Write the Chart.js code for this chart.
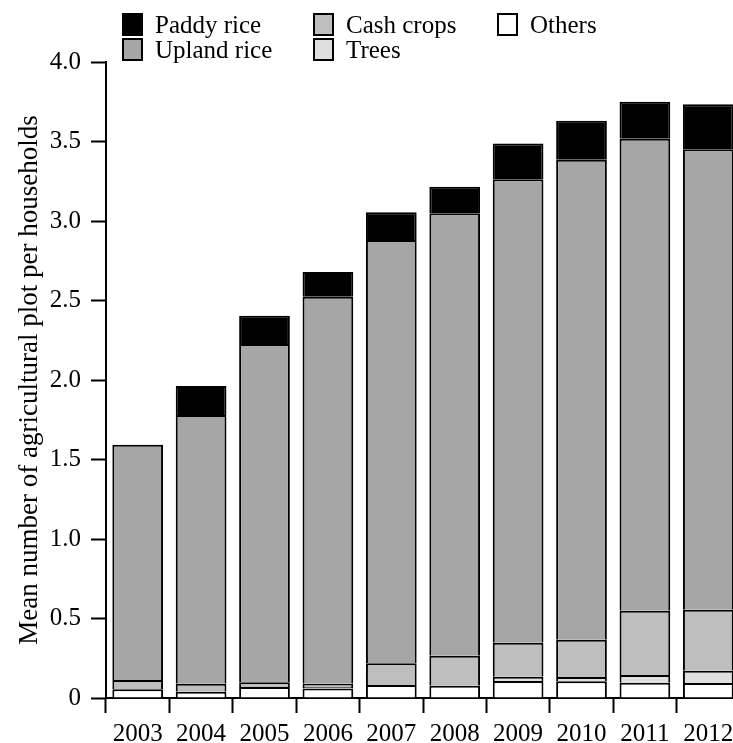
<!DOCTYPE html>
<html>
<head>
<meta charset="utf-8">
<script src="https://cdn.jsdelivr.net/npm/chart.js@4"></script>
<style>
  html, body { margin: 0; padding: 0; background: #fff; overflow: hidden; }
  #wrap { position: relative; width: 780px; height: 743px; }
  #legend {
    position: absolute; top: 12px; left: 122px;
    display: grid; grid-template-columns: 191px 184px auto; grid-auto-rows: 25px;
    font-family: "Liberation Serif", "Times New Roman", serif; font-size: 25px; color: #000;
  }
  #legend .item { display: flex; align-items: center; white-space: nowrap; line-height: 25px; }
  #legend .box { width: 21px; height: 23px; box-sizing: border-box; border: 2px solid #000; margin-right: 12px; flex: none; }
</style>
</head>
<body>
<div id="wrap">
  <canvas id="plotChart"></canvas>
  <div id="legend"></div>
</div>
<script>
const years = ["2003", "2004", "2005", "2006", "2007", "2008", "2009", "2010", "2011", "2012"];
// stacked bottom -> top
const others = [0.055, 0.04, 0.069, 0.059, 0.082, 0.077, 0.107, 0.105, 0.096, 0.094];
const trees = [0, 0, 0, 0.01, 0, 0, 0.027, 0.027, 0.049, 0.078];
const cashCrops = [0.058, 0.05, 0.03, 0.02, 0.136, 0.189, 0.214, 0.235, 0.404, 0.383];
const uplandRice = [1.48, 1.69, 2.127, 2.434, 2.662, 2.782, 2.914, 3.019, 2.969, 2.896];
const paddyRice = [0, 0.182, 0.178, 0.157, 0.175, 0.168, 0.226, 0.245, 0.232, 0.283];
const yTickLabels = ["0", "0.5", "1.0", "1.5", "2.0", "2.5", "3.0", "3.5", "4.0"];
const legendOrder = ["Paddy rice", "Cash crops", "Others", "Upland rice", "Trees"];

const serif = "'Liberation Serif', 'Times New Roman', serif";

function series(label, data, color) {
  return {
    label: label,
    data: data,
    backgroundColor: color,
    borderColor: "#000",
    borderWidth: 2,
    barPercentage: 0.8,
    categoryPercentage: 1.0,
  };
}

const datasets = [
  series("Others", others, "#ffffff"),
  series("Trees", trees, "#dedfde"),
  series("Cash crops", cashCrops, "#bebebe"),
  series("Upland rice", uplandRice, "#a6a6a6"),
  series("Paddy rice", paddyRice, "#000000"),
];

try {
  const ctx = document.getElementById("plotChart").getContext("2d");
  new Chart(ctx, {
    type: "bar",
    data: { labels: years, datasets: datasets },
    options: {
      responsive: true,
      maintainAspectRatio: false,
      animation: false,
      layout: { padding: { top: 62, right: 40, left: 0, bottom: 0 } },
      plugins: { legend: { display: false }, tooltip: { enabled: false } },
      scales: {
        x: {
          stacked: true,
          offset: true,
          grid: {
            offset: true,
            drawOnChartArea: false,
            drawTicks: true,
            tickLength: 15,
            tickWidth: 2,
            tickColor: "#000",
          },
          border: { display: true, color: "#000", width: 2 },
          ticks: { color: "#000", font: { family: serif, size: 25 }, padding: 6, maxRotation: 0 },
          afterFit: (scale) => { scale.height = 45; },
        },
        y: {
          stacked: true,
          min: 0,
          max: 4,
          grid: {
            drawOnChartArea: false,
            drawTicks: true,
            tickLength: 15,
            tickWidth: 2,
            tickColor: "#000",
          },
          border: { display: true, color: "#000", width: 2 },
          ticks: {
            stepSize: 0.5,
            color: "#000",
            padding: 10,
            font: { family: serif, size: 25 },
            callback: (v, i) => yTickLabels[i],
          },
          title: {
            display: true,
            text: "Mean number of agricultural plot per households",
            color: "#000",
            font: { family: serif, size: 27 },
            padding: { top: 14, bottom: 0 },
          },
          afterFit: (scale) => { scale.width = 106; },
        },
      },
    },
  });
} catch (e) {
  console.error("chart error:", e);
}

// legend built from the datasets
const legendEl = document.getElementById("legend");
legendOrder.forEach((name) => {
  const ds = datasets.find((d) => d.label === name);
  const item = document.createElement("div");
  item.className = "item";
  const box = document.createElement("span");
  box.className = "box";
  box.style.background = ds.backgroundColor;
  const txt = document.createElement("span");
  txt.textContent = ds.label;
  item.appendChild(box);
  item.appendChild(txt);
  legendEl.appendChild(item);
});
</script>
</body>
</html>
